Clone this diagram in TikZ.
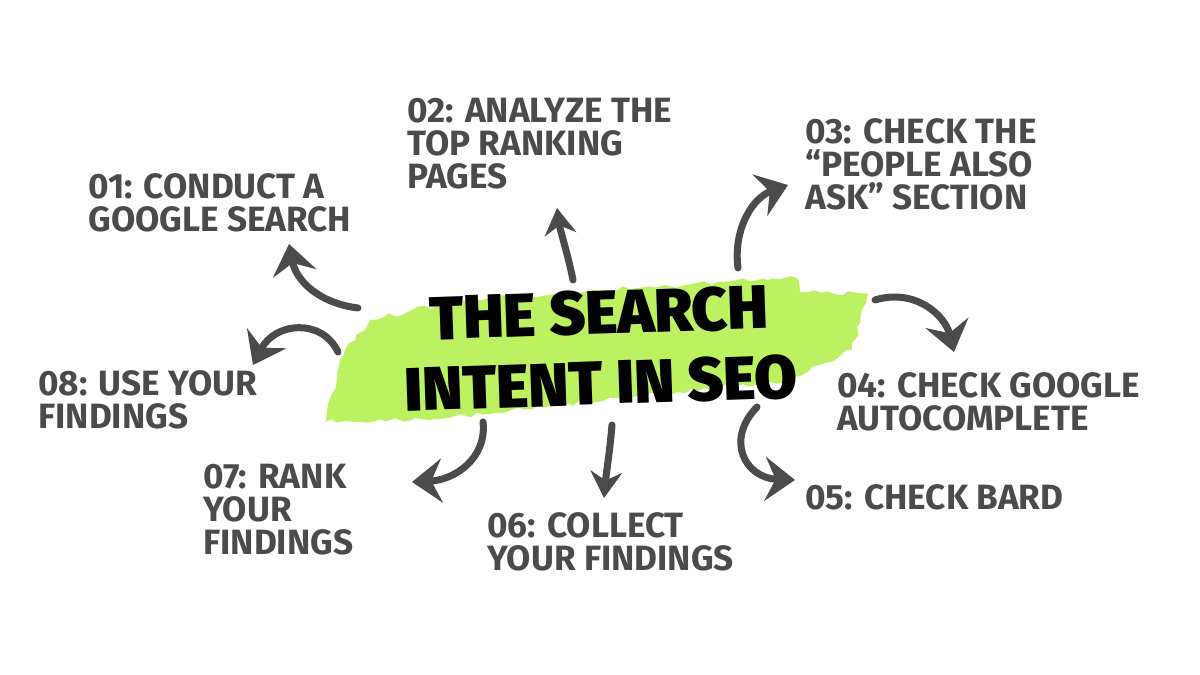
\documentclass[tikz,border=0pt]{standalone}
\usepackage{fontspec}
\setmainfont{Fira Sans}
\newfontfamily\titlefont{Fira Sans Black}
\usetikzlibrary{arrows.meta,decorations.pathmorphing}
\definecolor{brushgreen}{RGB}{188,242,98}
\definecolor{inkgray}{RGB}{75,75,75}

\begin{document}
\begin{tikzpicture}[
  x=0.02cm, y=-0.02cm,
  steplabel/.style={anchor=north west, align=left, inner sep=0pt, text=inkgray,
    font=\fontsize{20}{18.7}\selectfont\bfseries},
  headline/.style={align=center, inner sep=0pt, rotate=2,
    font=\titlefont\fontsize{35}{40}\selectfont},
  brush/.style={fill=brushgreen, decorate,
    decoration={random steps, segment length=4pt, amplitude=1.5pt}},
  curly/.style={draw=inkgray, line width=4pt, line cap=round,
    -{Stealth[length=17pt, width=25pt, inset=6pt]}},
  curlysmall/.style={curly, -{Stealth[length=15pt, width=18pt, inset=5pt]}}
]
\fill[white] (0,0) rectangle (1200,675);
\useasboundingbox (0,0) rectangle (1200,675);

\fill[brush] (325,422) -- (345,350) -- (370,320) -- (460,300) -- (795,277)
  -- (800,292) -- (868,294) -- (852,350) -- (790,380) -- (430,420) -- cycle;
\node[headline] (title) at (600,348) {THE SEARCH\\INTENT IN SEO};

\node[steplabel] (l1) at (88,173) {01: CONDUCT A\\GOOGLE SEARCH};
\node[steplabel] (l2) at (407,98) {02: ANALYZE THE\\TOP RANKING\\PAGES};
\node[steplabel] (l3) at (805,118) {03: CHECK THE\\“PEOPLE ALSO\\ASK” SECTION};
\node[steplabel] (l4) at (837,372) {04: CHECK GOOGLE\\AUTOCOMPLETE};
\node[steplabel] (l5) at (805,484) {05: CHECK BARD};
\node[steplabel] (l6) at (487,512) {06: COLLECT\\YOUR FINDINGS};
\node[steplabel] (l7) at (203,464) {07: RANK\\YOUR\\FINDINGS};
\node[steplabel] (l8) at (38,370) {08: USE YOUR\\FINDINGS};

\coordinate (s1) at (358,308); \coordinate (e1) at (289,244);
\coordinate (s2) at (573,280); \coordinate (e2) at (557,208);
\coordinate (s3) at (738,268); \coordinate (e3) at (788,185);
\coordinate (s4) at (875,300); \coordinate (e4) at (954,352);
\coordinate (s5) at (757,407); \coordinate (e5) at (795,480);
\coordinate (s6) at (612,425); \coordinate (e6) at (604,498);
\coordinate (s7) at (483,422); \coordinate (e7) at (412,482);
\coordinate (s8) at (338,352); \coordinate (e8) at (253,365);

\draw[curly] (s1) .. controls (318,303) and (296,280) .. (e1);
\draw[curlysmall] (s2) .. controls (568,255) and (560,230) .. (e2);
\draw[curly] (s3) .. controls (733,230) and (752,198) .. (e3);
\draw[curly] (s4) .. controls (915,288) and (945,315) .. (e4);
\draw[curly] (s5) .. controls (725,440) and (745,478) .. (e5);
\draw[curlysmall] (s6) .. controls (610,450) and (606,475) .. (e6);
\draw[curly] (s7) .. controls (487,458) and (455,480) .. (e7);
\draw[curly] (s8) .. controls (322,318) and (275,322) .. (e8);
\end{tikzpicture}
\end{document}
